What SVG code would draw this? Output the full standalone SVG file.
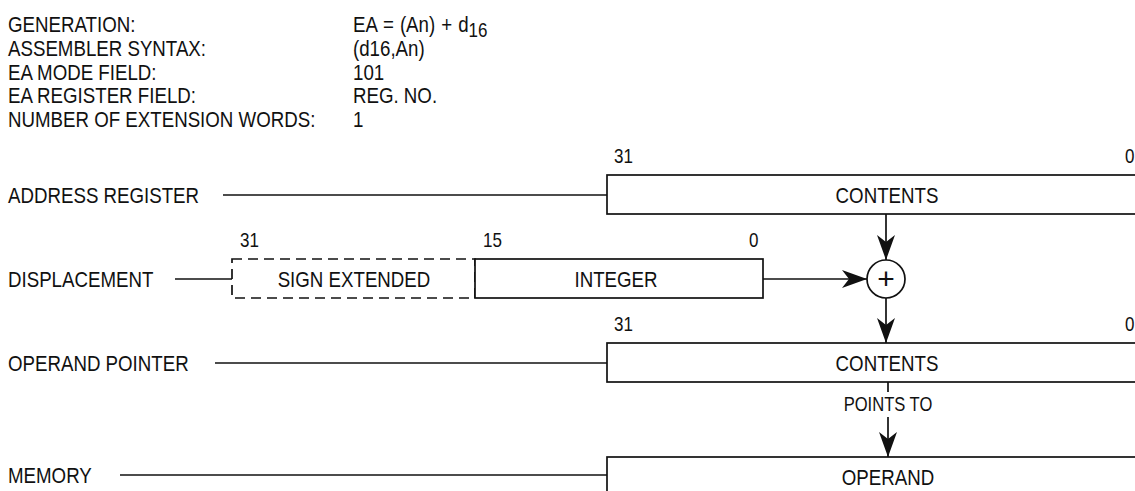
<svg xmlns="http://www.w3.org/2000/svg" width="1135" height="491" viewBox="0 0 1135 491">
<defs>
<style>
text{font-family:"Liberation Sans",Arial,sans-serif;font-size:22px;fill:#111}
.c{text-anchor:middle}
.n{font-size:20px}
.ln{stroke:#111;stroke-width:1.7;fill:none}
.box{stroke:#111;stroke-width:1.7;fill:#fff}
.dash{stroke:#111;stroke-width:1.7;fill:#fff;stroke-dasharray:10,6}
</style>
<marker id="ah" markerWidth="26" markerHeight="18" refX="25" refY="9" orient="auto" markerUnits="userSpaceOnUse">
<path d="M0,0 L25,9 L0,18 L7,9 Z" fill="#111"/>
</marker>
</defs>
<rect width="1135" height="491" fill="#fff"/>
<g id="header">
<g transform="scale(0.85,1)">
<text x="9.41" y="32">GENERATION:</text>
<text x="9.41" y="56">ASSEMBLER SYNTAX:</text>
<text x="9.41" y="80">EA MODE FIELD:</text>
<text x="9.41" y="103">EA REGISTER FIELD:</text>
<text x="9.41" y="127">NUMBER OF EXTENSION WORDS:</text>
<text x="415.29" y="32" style="word-spacing:1px">EA = (An) + d<tspan dy="5" style="font-size:20px;word-spacing:0">16</tspan></text>
<text x="415.29" y="56">(d16,An)</text>
<text x="415.29" y="80">101</text>
<text x="415.29" y="103">REG. NO.</text>
<text x="415.29" y="127">1</text>
</g>
</g>
<g id="address-register">
<rect class="box" x="607" y="175" width="560" height="39"/>
<g transform="scale(0.85,1)">
<text x="9.41" y="203">ADDRESS REGISTER</text>
<text class="n" x="722.35" y="163">31</text>
<text class="n" x="1323.5" y="163">0</text>
<text class="c" x="1043.53" y="203">CONTENTS</text>
</g>
</g>
<g id="displacement">
<rect class="dash" x="232" y="259" width="243" height="39"/>
<rect class="box" x="475" y="259" width="288" height="39"/>
<g transform="scale(0.85,1)">
<text x="9.41" y="287">DISPLACEMENT</text>
<text class="n" x="282.35" y="247">31</text>
<text class="n" x="568.24" y="247">15</text>
<text class="n" x="881.18" y="247">0</text>
<text class="c" x="416.47" y="287">SIGN EXTENDED</text>
<text class="c" x="724.71" y="287">INTEGER</text>
</g>
</g>
<g id="adder">
<circle class="box" cx="886" cy="279" r="19"/>
<text class="c" x="886" y="289" style="font-size:30px">+</text>
</g>
<g id="operand-pointer">
<rect class="box" x="607" y="343" width="560" height="39"/>
<g transform="scale(0.85,1)">
<text x="9.41" y="371">OPERAND POINTER</text>
<text class="n" x="722.35" y="331">31</text>
<text class="n" x="1323.5" y="331">0</text>
<text class="c" x="1043.53" y="371">CONTENTS</text>
</g>
</g>
<g id="memory">
<rect class="box" x="607" y="457" width="560" height="60"/>
<g transform="scale(0.85,1)">
<text x="9.41" y="483">MEMORY</text>
<text class="c" x="1044.71" y="485">OPERAND</text>
</g>
</g>
<g id="connectors">
<line class="ln" x1="223" y1="195" x2="607" y2="195"/>
<line class="ln" x1="175" y1="279" x2="232" y2="279"/>
<line class="ln" x1="215" y1="363" x2="607" y2="363"/>
<line class="ln" x1="120" y1="475" x2="607" y2="475"/>
<line class="ln" x1="886" y1="214" x2="886" y2="260" marker-end="url(#ah)"/>
<line class="ln" x1="763" y1="279" x2="867" y2="279" marker-end="url(#ah)"/>
<line class="ln" x1="886" y1="298" x2="886" y2="343" marker-end="url(#ah)"/>
<line class="ln" x1="888" y1="382" x2="888" y2="392"/>
<text class="c" x="1044.71" y="411" transform="scale(0.85,1)" style="font-size:19.5px">POINTS TO</text>
<line class="ln" x1="888" y1="417" x2="888" y2="457" marker-end="url(#ah)"/>
</g>
</svg>
